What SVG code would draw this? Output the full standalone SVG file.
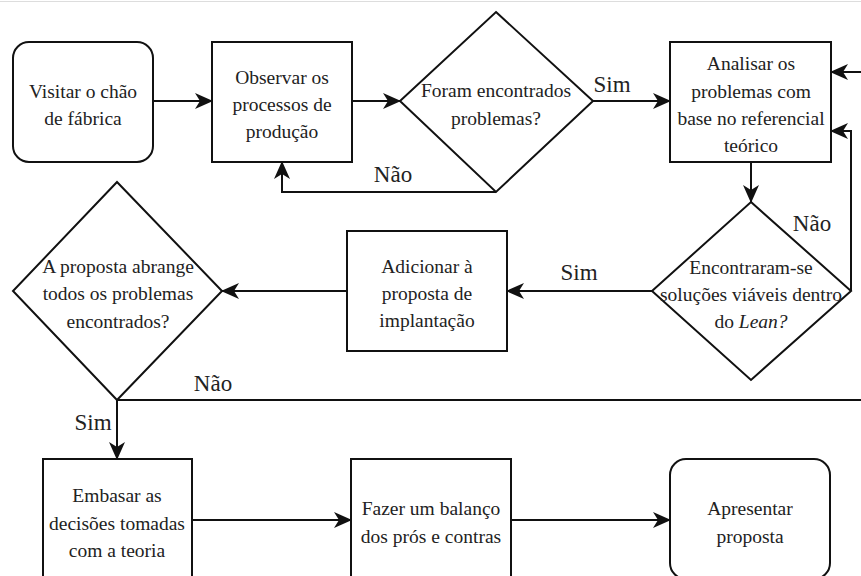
<svg xmlns="http://www.w3.org/2000/svg" width="861" height="576" viewBox="0 0 861 576" font-family="Liberation Serif, Times New Roman, serif">
<style>
.n{fill:#fff;stroke:#111;stroke-width:2}
.c{fill:none;stroke:#111;stroke-width:2}
.t{font-size:19.5px;fill:#222;text-anchor:middle}
.l{font-size:23px;fill:#222;text-anchor:middle}
</style>
<defs>
<marker id="a" viewBox="0 0 18 16" markerWidth="18" markerHeight="16" refX="17" refY="8" orient="auto" markerUnits="userSpaceOnUse">
<path d="M0,0 L18,8 L0,16 L5,8 z" fill="#111"/>
</marker>
</defs>
<rect width="861" height="576" fill="#fff"/>
<line x1="0" y1="1.5" x2="861" y2="1.5" stroke="#ddd" stroke-width="1"/>
<g id="connectors">
<path class="c" d="M153,101 L212,101" marker-end="url(#a)"/>
<path class="c" d="M352,101 L400,101" marker-end="url(#a)"/>
<path class="c" d="M496,192 L282,192 L282,162" marker-end="url(#a)"/>
<path class="c" d="M593,101 L670,101" marker-end="url(#a)"/>
<path class="c" d="M751,162 L751,202" marker-end="url(#a)"/>
<path class="c" d="M851,291 L851,131 L831,131" marker-end="url(#a)"/>
<path class="c" d="M652,291 L507,291" marker-end="url(#a)"/>
<path class="c" d="M347,291 L222,291" marker-end="url(#a)"/>
<path class="c" d="M117,400 L872,400 L872,72 L831,72" marker-end="url(#a)"/>
<path class="c" d="M117,400 L117,459" marker-end="url(#a)"/>
<path class="c" d="M192,520 L351,520" marker-end="url(#a)"/>
<path class="c" d="M511,520 L670,520" marker-end="url(#a)"/>
<text class="l" x="612" y="92">Sim</text>
<text class="l" x="393" y="182">Não</text>
<text class="l" x="812" y="231">Não</text>
<text class="l" x="579" y="280">Sim</text>
<text class="l" x="213" y="391">Não</text>
<text class="l" x="93" y="430">Sim</text>
</g>
<g id="visitar">
<rect class="n" x="13" y="42" width="140" height="120" rx="16"/>
<text class="t" x="83" y="98">Visitar o chão</text>
<text class="t" x="83" y="125">de fábrica</text>
</g>
<g id="observar">
<rect class="n" x="212" y="42" width="140" height="120"/>
<text class="t" x="282" y="84">Observar os</text>
<text class="t" x="282" y="111">processos de</text>
<text class="t" x="282" y="138">produção</text>
</g>
<g id="foram">
<polygon class="n" points="496,12 593,101 496,192 400,101"/>
<text class="t" x="496" y="97">Foram encontrados</text>
<text class="t" x="496" y="125">problemas?</text>
</g>
<g id="analisar">
<rect class="n" x="670" y="42" width="161" height="120"/>
<text class="t" x="751" y="70">Analisar os</text>
<text class="t" x="751" y="98">problemas com</text>
<text class="t" x="751" y="125">base no referencial</text>
<text class="t" x="751" y="152">teórico</text>
</g>
<g id="encontraram">
<polygon class="n" points="751,202 851,291 751,380 652,291"/>
<text class="t" x="751" y="274">Encontraram-se</text>
<text class="t" x="751" y="301">soluções viáveis dentro</text>
<text class="t" x="751" y="328">do <tspan font-style="italic">Lean?</tspan></text>
</g>
<g id="adicionar">
<rect class="n" x="347" y="231" width="160" height="120"/>
<text class="t" x="427" y="273">Adicionar à</text>
<text class="t" x="427" y="300">proposta de</text>
<text class="t" x="427" y="327">implantação</text>
</g>
<g id="abrange">
<polygon class="n" points="117,182 222,291 117,400 13,291"/>
<text class="t" x="118" y="273">A proposta abrange</text>
<text class="t" x="118" y="300">todos os problemas</text>
<text class="t" x="118" y="328">encontrados?</text>
</g>
<g id="embasar">
<rect class="n" x="43" y="459" width="149" height="130"/>
<text class="t" x="117" y="502">Embasar as</text>
<text class="t" x="117" y="530">decisões tomadas</text>
<text class="t" x="117" y="557">com a teoria</text>
</g>
<g id="fazer">
<rect class="n" x="351" y="459" width="160" height="130"/>
<text class="t" x="431" y="515">Fazer um balanço</text>
<text class="t" x="431" y="543">dos prós e contras</text>
</g>
<g id="apresentar">
<rect class="n" x="670" y="459" width="160" height="120" rx="16"/>
<text class="t" x="750" y="515">Apresentar</text>
<text class="t" x="750" y="543">proposta</text>
</g>
</svg>
